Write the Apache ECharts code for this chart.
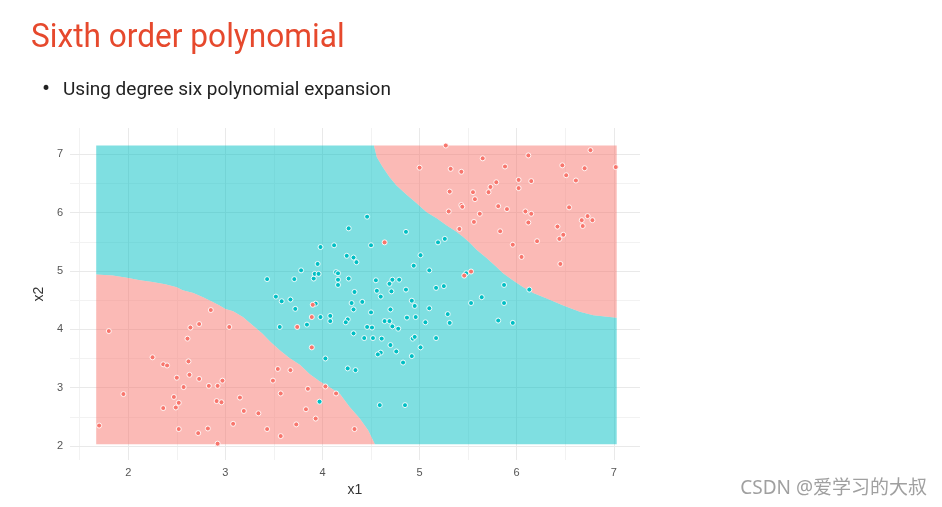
<!DOCTYPE html>
<html>
<head>
<meta charset="utf-8">
<script src="https://cdn.jsdelivr.net/npm/echarts@6/dist/echarts.min.js"></script>
<style>
  html, body { margin: 0; padding: 0; background: #ffffff; }
  #chart { width: 942px; height: 507px; }
</style>
</head>
<body>
<div id="chart"></div>
<script>
// ---- Axis setup ----
const xRange = [1.40, 7.27];
const yRange = [1.76, 7.45];
const xMajorTicks = [2, 3, 4, 5, 6, 7];
const xMinorTicks = [1.5, 2.5, 3.5, 4.5, 5.5, 6.5];
const yMajorTicks = [2, 3, 4, 5, 6, 7];
const yMinorTicks = [2.5, 3.5, 4.5, 5.5, 6.5];

// ---- Prediction grid extent (x1, x2) ----
const regionX = [1.67, 7.03];
const regionY = [2.03, 7.15];

// ---- Decision boundary (lower-left red region), from left edge to bottom ----
const lowerBoundary = [
  [1.67, 4.94], [1.84, 4.92], [2.00, 4.88], [2.12, 4.84], [2.25, 4.81], [2.38, 4.77],
  [2.50, 4.72], [2.56, 4.67], [2.67, 4.62], [2.77, 4.55], [2.87, 4.47], [2.94, 4.41],
  [3.00, 4.35], [3.08, 4.31], [3.18, 4.21], [3.28, 4.07], [3.38, 3.93], [3.46, 3.79],
  [3.56, 3.64], [3.66, 3.51], [3.77, 3.39], [3.87, 3.23], [3.97, 3.11], [4.07, 3.01],
  [4.18, 2.89], [4.28, 2.67], [4.38, 2.48], [4.47, 2.27], [4.54, 2.03]
];

// ---- Decision boundary (upper-right red region), from top edge to right edge ----
const upperBoundary = [
  [4.53, 7.15], [4.56, 6.95], [4.62, 6.78], [4.69, 6.61], [4.76, 6.47], [4.87, 6.30],
  [4.97, 6.16], [5.07, 6.01], [5.18, 5.90], [5.28, 5.78], [5.38, 5.67], [5.45, 5.58],
  [5.52, 5.48], [5.59, 5.36], [5.69, 5.22], [5.79, 5.07], [5.86, 4.96], [5.96, 4.84],
  [6.06, 4.73], [6.17, 4.62], [6.31, 4.53], [6.48, 4.41], [6.65, 4.30], [6.79, 4.24],
  [7.03, 4.20]
];

// ---- Observations, class 0 (teal) ----
const class0Points = [
  [3.43, 4.86], [3.52, 4.56], [3.58, 4.48], [3.67, 4.51], [3.71, 4.86], [3.72, 4.35],
  [3.78, 5.01], [3.91, 4.87], [3.92, 4.95], [3.96, 4.95], [3.95, 5.12], [3.98, 5.41],
  [4.12, 5.44], [4.14, 4.98], [4.16, 4.96], [4.16, 4.85], [4.16, 4.76], [3.93, 4.44],
  [3.98, 4.21], [4.08, 4.23], [4.08, 4.14], [3.84, 4.08], [3.56, 4.04], [4.03, 3.50],
  [3.97, 2.76], [4.25, 5.26], [4.32, 5.23], [4.35, 5.15], [4.27, 5.73], [4.46, 5.93],
  [4.50, 5.44], [4.86, 5.67], [5.19, 5.49], [5.26, 5.55], [5.01, 5.27], [4.94, 5.09],
  [5.10, 5.01], [4.27, 4.87], [4.55, 4.84], [4.69, 4.78], [4.72, 4.85], [4.79, 4.85],
  [4.86, 4.68], [4.56, 4.66], [4.71, 4.65], [4.33, 4.64], [4.60, 4.56], [5.17, 4.71],
  [5.25, 4.74], [5.48, 4.96], [5.87, 4.76], [6.13, 4.68], [5.53, 4.45], [5.64, 4.55],
  [5.87, 4.45], [4.30, 4.45], [4.41, 4.47], [4.32, 4.34], [4.50, 4.29], [4.70, 4.34],
  [4.92, 4.49], [4.95, 4.40], [5.10, 4.36], [5.29, 4.26], [4.26, 4.17], [4.24, 4.12],
  [4.64, 4.14], [4.69, 4.14], [4.72, 4.05], [4.78, 4.01], [4.87, 4.20], [4.96, 4.21],
  [5.06, 4.12], [5.31, 4.11], [4.46, 4.04], [4.51, 4.03], [4.32, 3.93], [4.43, 3.85],
  [4.52, 3.85], [4.61, 3.84], [4.70, 3.73], [4.93, 3.84], [4.95, 3.87], [5.17, 3.85],
  [5.01, 3.69], [4.76, 3.62], [4.60, 3.60], [4.57, 3.57], [4.92, 3.54], [4.83, 3.43],
  [4.26, 3.33], [4.34, 3.30], [4.59, 2.70], [4.85, 2.70], [5.81, 4.15], [5.96, 4.11]
];

// ---- Observations, class 1 (red) ----
const class1Points = [
  [1.70, 2.35], [1.80, 3.97], [1.95, 2.89], [2.25, 3.52], [2.36, 3.40], [2.40, 3.38],
  [2.36, 2.65], [2.47, 2.84], [2.49, 2.66], [2.52, 2.74], [2.52, 2.29], [2.50, 3.17],
  [2.57, 3.01], [2.62, 3.45], [2.61, 3.84], [2.64, 4.03], [2.73, 4.09], [2.63, 3.22],
  [2.73, 3.15], [2.72, 2.22], [2.85, 4.33], [2.82, 2.30], [2.83, 3.03], [2.91, 2.77],
  [2.92, 3.03], [2.97, 3.12], [2.96, 2.75], [2.92, 2.04], [3.04, 4.04], [3.15, 2.83],
  [3.08, 2.38], [3.19, 2.60], [3.34, 2.56], [3.43, 2.29], [3.49, 3.12], [3.54, 3.32],
  [3.57, 2.90], [3.57, 2.17], [3.67, 3.30], [3.74, 4.04], [3.73, 2.37], [3.83, 2.63],
  [3.85, 2.98], [3.89, 4.21], [3.89, 3.69], [3.90, 4.42], [3.93, 2.47], [4.03, 3.02],
  [4.14, 2.90], [4.33, 2.29],
  [4.64, 5.49], [5.00, 6.77], [5.27, 7.15], [5.32, 6.75], [5.43, 6.70], [5.65, 6.93],
  [5.88, 6.79], [6.12, 6.98], [6.47, 6.81], [6.70, 6.76], [6.76, 7.07], [7.02, 6.78],
  [6.51, 6.64], [6.61, 6.55], [5.79, 6.52], [6.02, 6.56], [6.15, 6.54], [5.73, 6.44],
  [5.71, 6.35], [6.02, 6.42], [5.31, 6.36], [5.55, 6.35], [5.57, 6.23], [5.43, 6.13],
  [5.44, 6.10], [5.81, 6.11], [5.90, 6.06], [5.62, 5.98], [6.09, 6.02], [6.15, 5.98],
  [6.54, 6.09], [5.30, 6.02], [5.56, 5.84], [6.12, 5.83], [6.42, 5.76], [6.67, 5.87],
  [6.73, 5.94], [6.78, 5.87], [6.68, 5.77], [6.48, 5.62], [6.44, 5.55], [5.41, 5.72],
  [5.83, 5.68], [6.21, 5.51], [5.96, 5.45], [6.05, 5.24], [6.45, 5.12], [5.53, 4.99],
  [5.46, 4.92]
];

// ---- Text ----
const titleText = 'Sixth order polynomial';
const bulletText = 'Using degree six polynomial expansion';
const xName = 'x1';
const yName = 'x2';
const watermark = 'CSDN @爱学习的大叔';

const tealFill = 'rgba(0,191,196,0.5)';
const redFill = 'rgba(248,118,109,0.5)';

function regionSeries(name, buildPoints, fill, z) {
  return {
    name: name,
    type: 'custom',
    coordinateSystem: 'cartesian2d',
    silent: true,
    z: z,
    data: [[regionX[0], regionY[0]]],
    renderItem: function (params, api) {
      const pts = buildPoints().map(function (p) { return api.coord(p); });
      return { type: 'polygon', shape: { points: pts }, style: { fill: fill, stroke: null } };
    }
  };
}

// teal area = prediction rectangle minus the two red areas
function tealPolygon() {
  const upperRev = upperBoundary.slice().reverse();
  return lowerBoundary
    .concat([[regionX[1], regionY[0]]])
    .concat(upperRev)
    .concat([[regionX[0], regionY[1]]]);
}
function lowerRedPolygon() {
  return [[regionX[0], regionY[0]]].concat(lowerBoundary);
}
function upperRedPolygon() {
  return upperBoundary.concat([[regionX[1], regionY[1]]]);
}

const chart = echarts.init(document.getElementById('chart'), null, { renderer: 'canvas' });

const axisFont = 'Liberation Sans, Arial, sans-serif';

chart.setOption({
  animation: false,
  backgroundColor: '#ffffff',
  graphic: [
    {
      type: 'text', x: 31, y: 38, scaleX: 0.93,
      style: { text: titleText, fontFamily: 'Roboto', fontSize: 34, fill: '#E6492D',
               align: 'left', verticalAlign: 'middle' }
    },
    {
      type: 'text', x: 42, y: 90,
      style: { text: '•', fontFamily: 'Roboto', fontSize: 24, fill: '#222222',
               align: 'left', verticalAlign: 'middle' }
    },
    {
      type: 'text', x: 63, y: 90,
      style: { text: bulletText, fontFamily: 'Roboto', fontSize: 19, fill: '#222222',
               align: 'left', verticalAlign: 'middle' }
    },
    {
      type: 'text', x: 927, y: 489,
      style: { text: watermark, fontFamily: 'Noto Sans, Noto Sans CJK SC, sans-serif', fontSize: 19,
               fill: '#a0a0a0', align: 'right', verticalAlign: 'middle' }
    }
  ],
  grid: { left: 70, right: 302, top: 128, bottom: 47, containLabel: false },
  xAxis: [
    {
      type: 'value', min: xRange[0], max: xRange[1], gridIndex: 0,
      name: xName, nameLocation: 'middle', nameGap: 20,
      nameTextStyle: { fontFamily: axisFont, fontSize: 14, color: '#333333' },
      axisLine: { show: false },
      axisTick: { show: false, customValues: xMajorTicks },
      axisLabel: { customValues: xMajorTicks, margin: 7, fontFamily: axisFont, fontSize: 11, color: '#555555' },
      splitLine: { show: true, lineStyle: { color: '#e9e9e9', width: 1 } },
      z: 1
    },
    {
      type: 'value', min: xRange[0], max: xRange[1], gridIndex: 0,
      axisLine: { show: false },
      axisTick: { show: false, customValues: xMinorTicks },
      axisLabel: { show: false, customValues: xMinorTicks },
      splitLine: { show: true, lineStyle: { color: '#f2f2f2', width: 1 } },
      z: 0
    }
  ],
  yAxis: [
    {
      type: 'value', min: yRange[0], max: yRange[1], gridIndex: 0,
      name: yName, nameLocation: 'middle', nameGap: 18, nameRotate: 90,
      nameTextStyle: { fontFamily: axisFont, fontSize: 14, color: '#333333' },
      axisLine: { show: false },
      axisTick: { show: false, customValues: yMajorTicks },
      axisLabel: { customValues: yMajorTicks, margin: 7, fontFamily: axisFont, fontSize: 11, color: '#555555' },
      splitLine: { show: true, lineStyle: { color: '#e9e9e9', width: 1 } },
      z: 1
    },
    {
      type: 'value', min: yRange[0], max: yRange[1], gridIndex: 0,
      axisLine: { show: false },
      axisTick: { show: false, customValues: yMinorTicks },
      axisLabel: { show: false, customValues: yMinorTicks },
      splitLine: { show: true, lineStyle: { color: '#f2f2f2', width: 1 } },
      z: 0
    }
  ],
  series: [
    regionSeries('class 0 region', tealPolygon, tealFill, 2),
    regionSeries('class 1 region (lower)', lowerRedPolygon, redFill, 2),
    regionSeries('class 1 region (upper)', upperRedPolygon, redFill, 2),
    {
      name: 'class 0', type: 'scatter', z: 5, data: class0Points,
      symbol: 'circle', symbolSize: 5,
      itemStyle: { color: '#00BFC4', borderColor: 'rgba(255,255,255,0.9)', borderWidth: 1, opacity: 1 }
    },
    {
      name: 'class 1', type: 'scatter', z: 5, data: class1Points,
      symbol: 'circle', symbolSize: 5,
      itemStyle: { color: '#F8766D', borderColor: 'rgba(255,255,255,0.9)', borderWidth: 1, opacity: 1 }
    }
  ]
});
</script>
</body>
</html>
